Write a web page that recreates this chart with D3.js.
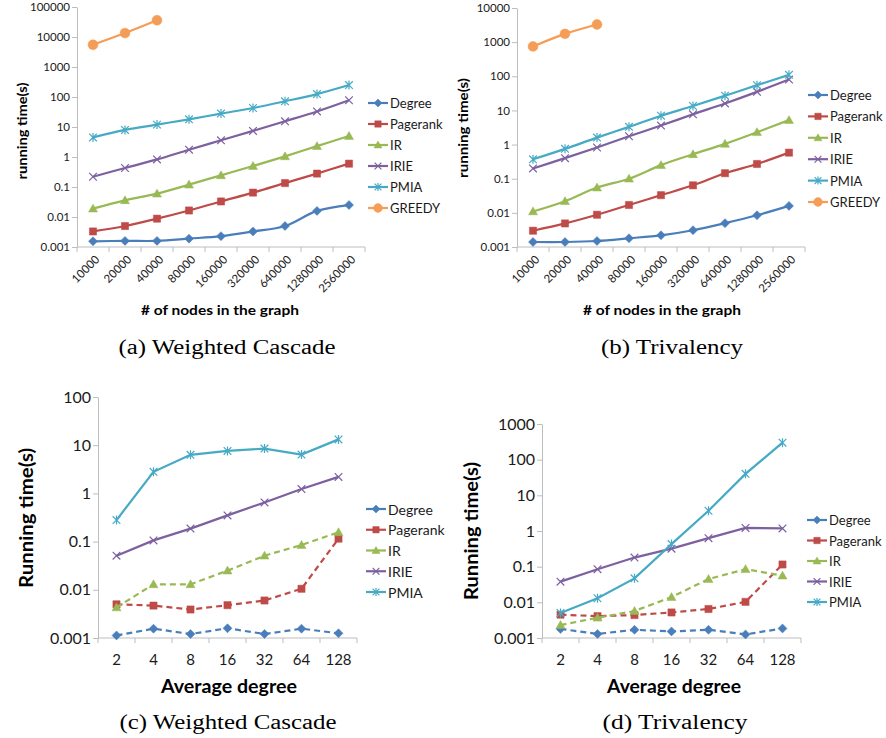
<!DOCTYPE html>
<html><head><meta charset="utf-8">
<script src="https://cdn.jsdelivr.net/npm/d3@7"></script>
<style>body{margin:0;background:#fff} svg{display:block}</style>
</head><body><svg id="c" width="886" height="738"></svg>
<script>
const seriesNames = ["Degree","Pagerank","IR","IRIE","PMIA","GREEDY"];
const seriesColors = ["#4A7EBB","#BE4B48","#98B954","#7D60A0","#46AAC5","#F59D56"];
const seriesMarkers = ["diamond","square","triangle","x","asterisk","circle"];
const nodeCats = ["10000","20000","40000","80000","160000","320000","640000","1280000","2560000"];
const degreeCats = ["2","4","8","16","32","64","128"];
const yTicksA = ["0.001","0.01","0.1","1","10","100","1000","10000","100000"];
const yTicksB = ["0.001","0.01","0.1","1","10","100","1000","10000"];
const yTicksC = ["0.001","0.01","0.1","1","10","100"];
const yTicksD = ["0.001","0.01","0.1","1","10","100","1000"];

// (a) Weighted Cascade, scaling with graph size
const aDegree   = [0.00155,0.0016,0.0016,0.0019,0.0023,0.0033,0.005,0.016,0.025];
const aPagerank = [0.0033,0.005,0.0088,0.0165,0.033,0.065,0.135,0.28,0.6];
const aIR       = [0.019,0.036,0.06,0.12,0.245,0.5,1.05,2.3,5];
const aIRIE     = [0.22,0.43,0.83,1.75,3.6,7.4,15.5,33,78];
const aPMIA     = [4.5,8,12,18,28,43,72,125,250];
const aGREEDY   = [5500,13500,36000];
// (b) Trivalency, scaling with graph size
const bDegree   = [0.0014,0.0014,0.0015,0.0018,0.0022,0.0031,0.005,0.0085,0.016];
const bPagerank = [0.003,0.0049,0.0088,0.017,0.033,0.064,0.145,0.27,0.58];
const bIR       = [0.011,0.022,0.055,0.1,0.25,0.52,1.05,2.3,5.2];
const bIRIE     = [0.2,0.4,0.82,1.75,3.6,7.7,16,35,80];
const bPMIA     = [0.37,0.75,1.6,3.3,7,13.5,27,55,110];
const bGREEDY   = [750,1750,3300];
// (c) Weighted Cascade, average degree
const cDegree   = [0.00113,0.00156,0.00121,0.00159,0.00121,0.00156,0.00125];
const cPagerank = [0.005,0.0047,0.0039,0.0048,0.006,0.0105,0.115];
const cIR       = [0.0043,0.013,0.013,0.025,0.051,0.085,0.156];
const cIRIE     = [0.051,0.106,0.186,0.35,0.65,1.23,2.2];
const cPMIA     = [0.28,2.8,6.3,7.6,8.5,6.4,13.2];
// (d) Trivalency, average degree
const dDegree   = [0.0018,0.0013,0.0017,0.00153,0.0017,0.00126,0.00186];
const dPagerank = [0.0045,0.0041,0.0044,0.0052,0.0065,0.0103,0.115];
const dIR       = [0.0023,0.0037,0.0057,0.014,0.045,0.085,0.056];
const dIRIE     = [0.038,0.085,0.18,0.32,0.63,1.22,1.18];
const dPMIA     = [0.005,0.013,0.047,0.43,3.7,40,300];

const svg = d3.select("#c");
const SANS = "Lato, 'Open Sans', sans-serif";
const SERIF = "'Liberation Serif', 'DejaVu Serif', serif";

const panels = [
  {cats:nodeCats, ticks:yTicksA, series:[aDegree,aPagerank,aIR,aIRIE,aPMIA,aGREEDY],
   left:77,right:365,top:7,bottom:247, smooth:true, dashed:[false,false,false,false,false,false], rotX:true,
   yt:"running time(s)", ytX:22, ytY:131, ytS:13.5, ytW:97,
   xt:"# of nodes in the graph", xtX:220, xtY:309, xtS:14, xtW:158,
   cap:"(a) Weighted Cascade", capX:227, capY:347, capW:217,
   legX:368, legY:103, legStep:21, legS:13, tickS:11.5, xtickS:11.5},
  {cats:nodeCats, ticks:yTicksB, series:[bDegree,bPagerank,bIR,bIRIE,bPMIA,bGREEDY],
   left:517,right:805,top:8,bottom:247, smooth:true, dashed:[false,false,false,false,false,false], rotX:true,
   yt:"running time(s)", ytX:463, ytY:128, ytS:13.5, ytW:100,
   xt:"# of nodes in the graph", xtX:662, xtY:309, xtS:14, xtW:158,
   cap:"(b) Trivalency", capX:672, capY:347, capW:142,
   legX:808, legY:95, legStep:21.4, legS:13, tickS:11.5, xtickS:11.5},
  {cats:degreeCats, ticks:yTicksC, series:[cDegree,cPagerank,cIR,cIRIE,cPMIA],
   left:98,right:357,top:397,bottom:638, smooth:false, dashed:[true,true,true,false,false], rotX:false,
   yt:"Running time(s)", ytX:25, ytY:518, ytS:19, ytW:140,
   xt:"Average degree", xtX:229, xtY:686, xtS:18, xtW:136,
   cap:"(c) Weighted Cascade", capX:228, capY:722, capW:217,
   legX:366, legY:509, legStep:20.75, legS:14, tickS:16, xtickS:15},
  {cats:degreeCats, ticks:yTicksD, series:[dDegree,dPagerank,dIR,dIRIE,dPMIA],
   left:542,right:801,top:424,bottom:638, smooth:false, dashed:[true,true,true,false,false], rotX:false,
   yt:"Running time(s)", ytX:470, ytY:531, ytS:19, ytW:138,
   xt:"Average degree", xtX:674, xtY:686, xtS:18, xtW:134,
   cap:"(d) Trivalency", capX:675, capY:722, capW:145,
   legX:807, legY:520, legStep:20.5, legS:13, tickS:16, xtickS:15}
];

function markerPath(type, r){
  switch(type){
    case "diamond": return `M0,${-r}L${r},0L0,${r}L${-r},0Z`;
    case "square": return `M${-r*0.8},${-r*0.8}H${r*0.8}V${r*0.8}H${-r*0.8}Z`;
    case "triangle": return `M0,${-r}L${r},${r*0.75}L${-r},${r*0.75}Z`;
    case "x": return `M${-r*0.85},${-r*0.85}L${r*0.85},${r*0.85}M${r*0.85},${-r*0.85}L${-r*0.85},${r*0.85}`;
    case "asterisk": return `M${-r*0.85},${-r*0.85}L${r*0.85},${r*0.85}M${r*0.85},${-r*0.85}L${-r*0.85},${r*0.85}M0,${-r}L0,${r}`;
    case "circle": return d3.symbol(d3.symbolCircle, Math.PI*r*r)();
  }
}
function drawMarker(g, type, color, x, y, r){
  const filled = !(type==="x"||type==="asterisk");
  g.append("path").attr("d", markerPath(type, type==="circle" ? r*1.1 : r))
    .attr("transform",`translate(${x},${y})`)
    .attr("fill", filled?color:"none")
    .attr("stroke", color).attr("stroke-width", filled?0.5:1.2);
}

panels.forEach(p => {
  const g = svg.append("g");
  const x = d3.scaleBand().domain(p.cats).range([p.left,p.right]);
  const y = d3.scaleLog().domain([+p.ticks[0], +p.ticks[p.ticks.length-1]]).range([p.bottom,p.top]);
  const cx = c => x(c) + x.bandwidth()/2;

  // y axis
  const ya = g.append("g").attr("transform",`translate(${p.left},0)`)
    .call(d3.axisLeft(y).tickValues(p.ticks.map(Number)).tickFormat((d,i)=>p.ticks[i]).tickSize(5).tickSizeOuter(0));
  ya.select(".domain").attr("stroke","#BDBDBD").attr("stroke-width",1);
  ya.selectAll(".tick line").attr("stroke","#BDBDBD");
  ya.selectAll(".tick text").attr("font-family",SANS).attr("font-size",p.tickS).attr("fill","#1a1a1a").attr("x",-7);

  // x axis
  const xa = g.append("g").attr("transform",`translate(0,${p.bottom})`);
  xa.append("line").attr("x1",p.left).attr("x2",p.right).attr("stroke","#BDBDBD");
  const bounds = p.cats.map(c=>x(c)).concat([x(p.cats[p.cats.length-1])+x.bandwidth()]);
  xa.selectAll("line.tk").data(bounds).join("line").attr("class","tk")
    .attr("x1",d=>d).attr("x2",d=>d).attr("y1",0).attr("y2",5).attr("stroke","#BDBDBD");
  if(p.rotX){
    xa.selectAll("text").data(p.cats).join("text")
      .attr("transform",c=>`translate(${cx(c)+4},${10}) rotate(-45)`)
      .attr("text-anchor","end").attr("dominant-baseline","central")
      .attr("font-family",SANS).attr("font-size",p.xtickS).attr("fill","#1a1a1a").text(c=>c);
  } else {
    xa.selectAll("text").data(p.cats).join("text")
      .attr("x",c=>cx(c)).attr("y",21).attr("text-anchor","middle").attr("dominant-baseline","central")
      .attr("font-family",SANS).attr("font-size",p.xtickS).attr("fill","#1a1a1a").text(c=>c);
  }

  // series
  const line = d3.line().x((d,i)=>cx(p.cats[i])).y(d=>y(d))
    .curve(p.smooth ? d3.curveCatmullRom.alpha(0.5) : d3.curveLinear);
  p.series.forEach((vals, si) => {
    const color = seriesColors[si];
    g.append("path").attr("d", line(vals)).attr("fill","none")
      .attr("stroke", color).attr("stroke-width", 2.2)
      .attr("stroke-dasharray", p.dashed[si] ? "6,4" : null);
    vals.forEach((v,i)=> drawMarker(g, seriesMarkers[si], color, cx(p.cats[i]), y(v), 4.5));
  });

  // legend
  p.series.forEach((vals, si) => {
    const ly = p.legY + si*p.legStep;
    const color = seriesColors[si];
    g.append("line").attr("x1",p.legX).attr("x2",p.legX+20).attr("y1",ly).attr("y2",ly)
      .attr("stroke",color).attr("stroke-width",2.2);
    drawMarker(g, seriesMarkers[si], color, p.legX+10, ly, 4);
    g.append("text").attr("x",p.legX+22).attr("y",ly).attr("dominant-baseline","central")
      .attr("font-family",SANS).attr("font-size",p.legS).attr("fill","#1a1a1a").text(seriesNames[si]);
  });

  // titles
  g.append("text").attr("transform",`translate(${p.ytX},${p.ytY}) rotate(-90)`)
    .attr("text-anchor","middle").attr("dominant-baseline","central")
    .attr("font-family",SANS).attr("font-weight","bold").attr("font-size",p.ytS)
    .attr("textLength",p.ytW).attr("lengthAdjust","spacingAndGlyphs").attr("fill","#000").text(p.yt);
  g.append("text").attr("x",p.xtX).attr("y",p.xtY)
    .attr("text-anchor","middle").attr("dominant-baseline","central")
    .attr("font-family",SANS).attr("font-weight","bold").attr("font-size",p.xtS)
    .attr("textLength",p.xtW).attr("lengthAdjust","spacingAndGlyphs").attr("fill","#000").text(p.xt);
  g.append("text").attr("x",p.capX).attr("y",p.capY)
    .attr("text-anchor","middle").attr("dominant-baseline","central")
    .attr("font-family",SERIF).attr("font-size",20)
    .attr("textLength",p.capW).attr("lengthAdjust","spacingAndGlyphs").attr("fill","#000").text(p.cap);
});
</script></body></html>
